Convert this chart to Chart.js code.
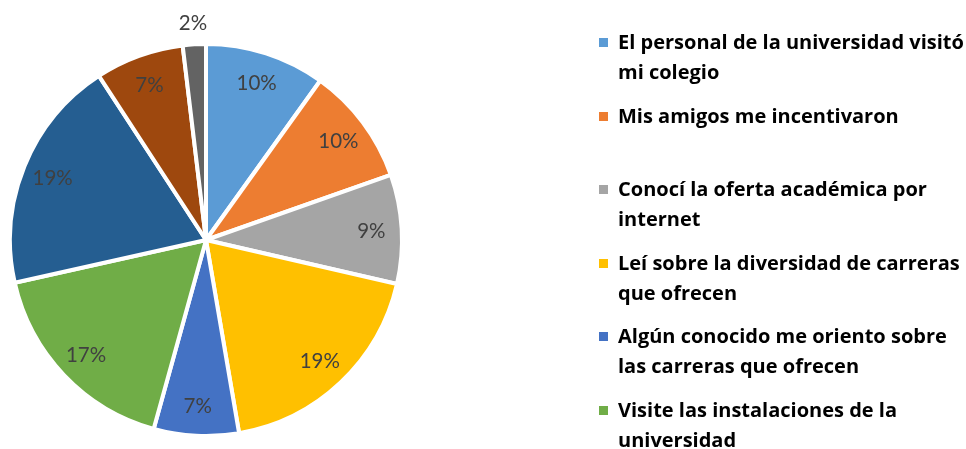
<!DOCTYPE html>
<html>
<head>
<meta charset="utf-8">
<script src="https://cdn.jsdelivr.net/npm/chart.js@4/dist/chart.umd.min.js"></script>
<style>
  html, body { margin: 0; padding: 0; background: #fff; }
  #wrap { position: relative; width: 966px; height: 449px; overflow: hidden; }
  #grafico { position: absolute; left: 0; top: 0; }
  #leyenda { position: absolute; left: 599px; top: 27px; font-family: "Open Sans", Lato, sans-serif; font-weight: bold; font-size: 20px; color: #000; }
  .item { position: relative; height: 73.6px; padding-left: 19px; line-height: 30px; white-space: nowrap; }
  .item .cuadro { position: absolute; left: 0; top: 11px; width: 9px; height: 9px; }
</style>
</head>
<body>
<div id="wrap">
  <canvas id="grafico" width="966" height="449"></canvas>
  <div id="leyenda"></div>
</div>
<script>
// categorias (solo las 6 primeras se ven en la leyenda recortada)
var categorias = [
    ['El personal de la universidad visitó', 'mi colegio'],
    ['Mis amigos me incentivaron'],
    ['Conocí la oferta académica por', 'internet'],
    ['Leí sobre la diversidad de carreras', 'que ofrecen'],
    ['Algún conocido me oriento sobre', 'las carreras que ofrecen'],
    ['Visite las instalaciones de la', 'universidad'],
    ['Opción 7'],
    ['Opción 8'],
    ['Opción 9']
];
// porcentajes
var valores = [9.9, 9.7, 9.0, 18.7, 7.0, 17.2, 19.3, 7.3, 1.9];
var colores = ['#5B9BD5', '#ED7D31', '#A5A5A5', '#FFC000', '#4472C4', '#70AD47', '#255E91', '#9E480E', '#636363'];
var itemsLeyenda = 6;

// etiquetas de porcentaje sobre cada porcion
var etiquetasPlugin = {
    id: 'etiquetas',
    afterDatasetsDraw: function (chart) {
        var ctx = chart.ctx;
        var meta = chart.getDatasetMeta(0);
        var total = valores.reduce(function (a, b) { return a + b; }, 0);
        ctx.save();
        ctx.font = '20.5px Lato, "Open Sans", sans-serif';
        ctx.fillStyle = '#404040';
        ctx.textAlign = 'center';
        ctx.textBaseline = 'middle';
        meta.data.forEach(function (arc, i) {
            var p = arc.getProps(['x', 'y', 'startAngle', 'endAngle', 'outerRadius'], true);
            var ang = (p.startAngle + p.endAngle) / 2;
            var pct = valores[i] / total * 100;
            var r = pct < 3 ? p.outerRadius + 22 : p.outerRadius * 0.845;
            ctx.fillText(Math.round(pct) + '%', p.x + Math.cos(ang) * r, p.y + Math.sin(ang) * r + 1);
        });
        ctx.restore();
    }
};

var ctx = document.getElementById('grafico').getContext('2d');
var grafico = new Chart(ctx, {
    type: 'pie',
    data: {
        labels: categorias,
        datasets: [{
            data: valores,
            backgroundColor: colores,
            borderColor: '#ffffff',
            borderWidth: 4,
            hoverOffset: 0
        }]
    },
    options: {
        responsive: false,
        animation: false,
        layout: { padding: { left: 8, top: 42, right: 562, bottom: 11 } },
        plugins: {
            legend: { display: false },
            tooltip: { enabled: false }
        }
    },
    plugins: [etiquetasPlugin]
});

// leyenda en HTML
var leyenda = document.getElementById('leyenda');
for (var i = 0; i < itemsLeyenda; i++) {
    var div = document.createElement('div');
    div.className = 'item';
    div.innerHTML = '<span class="cuadro" style="background:' + colores[i] + '"></span>' + categorias[i].join('<br>');
    leyenda.appendChild(div);
}
</script>
</body>
</html>
